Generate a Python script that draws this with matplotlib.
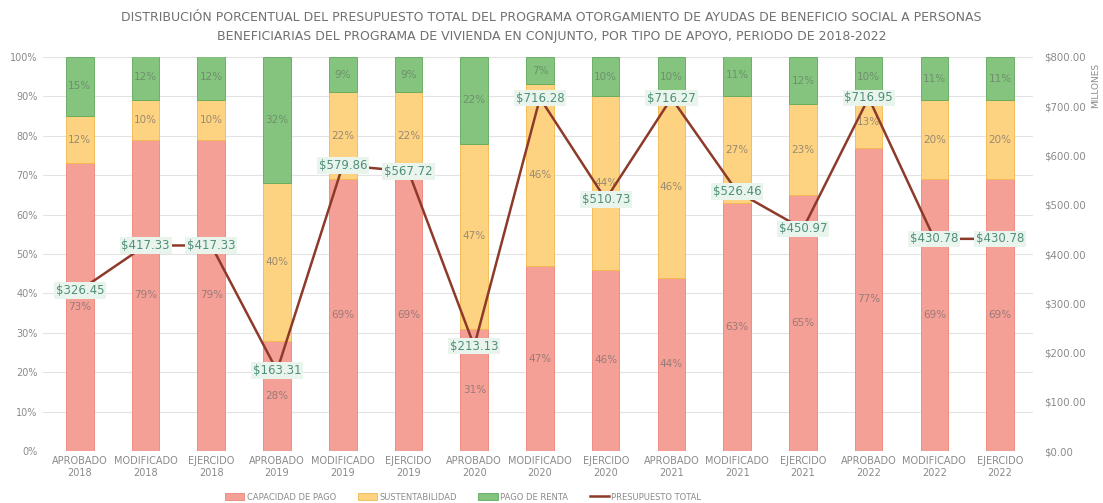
import matplotlib.pyplot as plt
from matplotlib.ticker import FuncFormatter
import numpy as np

categorias = ["APROBADO\n2018", "MODIFICADO\n2018", "EJERCIDO\n2018",
              "APROBADO\n2019", "MODIFICADO\n2019", "EJERCIDO\n2019",
              "APROBADO\n2020", "MODIFICADO\n2020", "EJERCIDO\n2020",
              "APROBADO\n2021", "MODIFICADO\n2021", "EJERCIDO\n2021",
              "APROBADO\n2022", "MODIFICADO\n2022", "EJERCIDO\n2022"]

capacidad_pago = [73, 79, 79, 28, 69, 69, 31, 47, 46, 44, 63, 65, 77, 69, 69]
sustentabilidad = [12, 10, 10, 40, 22, 22, 47, 46, 44, 46, 27, 23, 13, 20, 20]
pago_renta = [15, 12, 12, 32, 9, 9, 22, 7, 10, 10, 11, 12, 10, 11, 11]
presupuesto_total = [326.45, 417.33, 417.33, 163.31, 579.86, 567.72, 213.13, 716.28,
                     510.73, 716.27, 526.46, 450.97, 716.95, 430.78, 430.78]

gris = "#8a8a8a"
c_rojo = "#f4a096"
c_amarillo = "#fdd382"
c_verde = "#84c47f"

fig = plt.figure(figsize=(11.03, 5.03), dpi=100)
ax = fig.add_axes([0.039, 0.103, 0.8975, 0.784])
ax2 = ax.twinx()

x = np.arange(len(categorias))
ancho = 0.42
cap = np.array(capacidad_pago)
sus = np.array(sustentabilidad)
ren = np.array(pago_renta)

b1 = ax.bar(x, cap, ancho, color=c_rojo, edgecolor="#ee8275", linewidth=0.6,
            label="CAPACIDAD DE PAGO", zorder=2)
b2 = ax.bar(x, sus, ancho, bottom=cap, color=c_amarillo, edgecolor="#f3b94c",
            linewidth=0.6, label="SUSTENTABILIDAD", zorder=2)
b3 = ax.bar(x, ren, ancho, bottom=cap + sus, color=c_verde, edgecolor="#5fa85c",
            linewidth=0.6, label="PAGO DE RENTA", zorder=2)

for i in range(len(x)):
    ax.text(x[i], cap[i] / 2, f"{cap[i]}%", ha="center", va="center",
            fontsize=7.5, color="#9a7a78", zorder=3)
    ax.text(x[i], cap[i] + sus[i] / 2, f"{sus[i]}%", ha="center", va="center",
            fontsize=7.5, color="#9a8a70", zorder=3)
    ax.text(x[i], cap[i] + sus[i] + ren[i] / 2, f"{ren[i]}%", ha="center",
            va="center", fontsize=7.5, color="#6f8f6c", zorder=3)

ax.set_ylim(0, 100)
ax.set_xlim(-0.56, 14.5)
ax.set_yticks(range(0, 101, 10))
ax.yaxis.set_major_formatter(FuncFormatter(lambda v, p: f"{int(v)}%"))
ax.set_xticks(x)
ax.set_xticklabels(categorias)
ax.grid(axis="y", color="#e3e3e3", linewidth=0.8, zorder=0)
ax.set_axisbelow(True)

linea, = ax2.plot(x, presupuesto_total, color="#8e3a2a", linewidth=1.8,
                  label="PRESUPUESTO TOTAL", zorder=4)
for i, v in enumerate(presupuesto_total):
    ax2.text(x[i], v, f"${v:.2f}", ha="center", va="center", fontsize=8.5,
             color="#4f8f7a", zorder=5,
             bbox=dict(boxstyle="square,pad=0.15", fc="#e9f5ec", ec="none"))
ax2.set_ylim(0, 800)
ax2.set_yticks(range(0, 801, 100))
ax2.yaxis.set_major_formatter(FuncFormatter(lambda v, p: f"${v:,.2f}"))
fig.text(0.997, 0.83, "MILLONES", rotation=90, ha="right", va="center",
         color=gris, fontsize=6.5)

for a in (ax, ax2):
    for s in a.spines.values():
        s.set_visible(False)
    a.tick_params(length=0, colors=gris, labelsize=7)
ax.tick_params(axis="y", pad=4)
ax2.tick_params(axis="y", pad=8, labelsize=7.3)

fig.suptitle("DISTRIBUCIÓN PORCENTUAL DEL PRESUPUESTO TOTAL DEL PROGRAMA OTORGAMIENTO DE AYUDAS DE BENEFICIO SOCIAL A PERSONAS\n"
             "BENEFICIARIAS DEL PROGRAMA DE VIVIENDA EN CONJUNTO, POR TIPO DE APOYO, PERIODO DE 2018-2022",
             y=0.978, fontsize=9, color="#707070", linespacing=1.55)

fig.legend(handles=[b1, b2, b3, linea], loc="lower center", ncol=4,
           bbox_to_anchor=(0.42, -0.012), frameon=False, fontsize=6,
           labelcolor=gris, columnspacing=2.6, handlelength=2.3,
           handleheight=0.9, handletextpad=0.3)

fig.savefig("out.png", dpi=100)
